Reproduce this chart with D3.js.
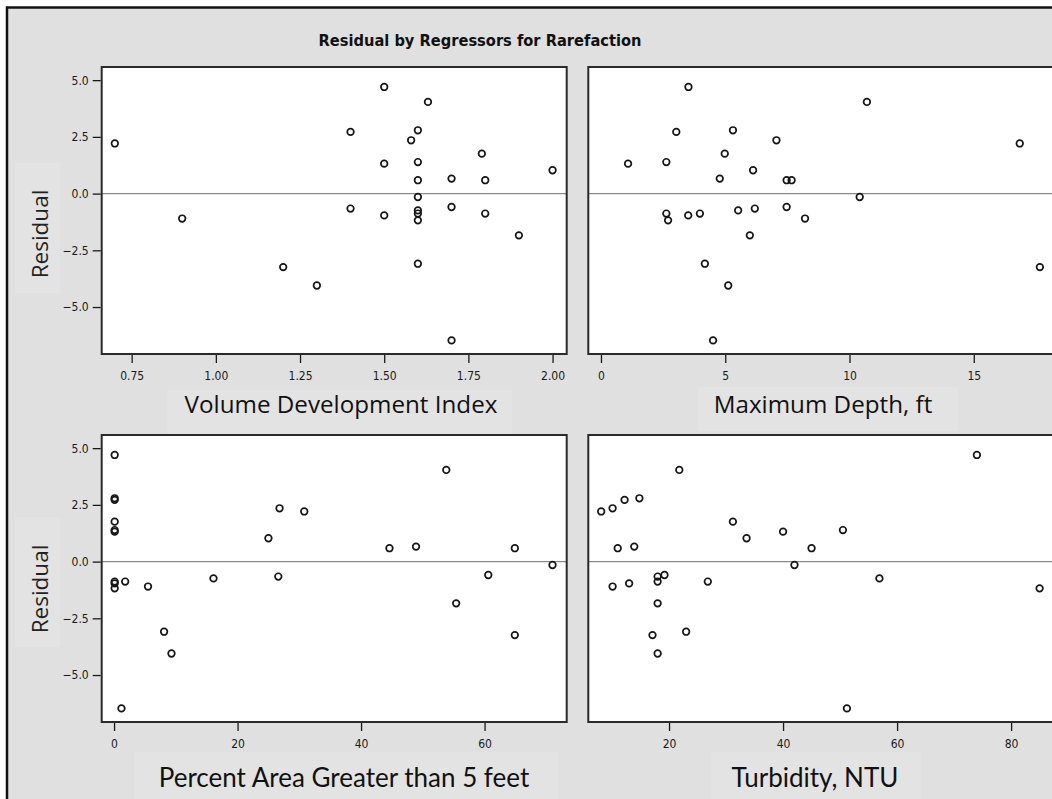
<!DOCTYPE html>
<html>
<head>
<meta charset="utf-8">
<script src="https://cdn.jsdelivr.net/npm/d3@7"></script>
<style>
  body { margin: 0; background: #fff; }
  .tick text { font-family: "DejaVu Sans Condensed", "Liberation Sans Narrow", sans-serif; font-size: 12px; fill: #1a1a1a; }
  .tick line { stroke: #1a1a1a; stroke-width: 1.3; }
  .domain { display: none; }
</style>
</head>
<body>
<svg id="chart"></svg>
<script>
// residuals of the rarefaction model, one per lake
const residuals = [2.21, -1.10, -3.24, -4.05, 2.72, -0.66, 4.70, 1.32, -0.96, 4.04, 2.79, 2.35, 1.39, 0.59,
  -0.15, -0.74, -0.88, -1.18, -3.09, 0.66, -0.59, -6.47, 1.76, 0.59, -0.88, -1.84, 1.03];

// regressors, same order as residuals
const volumeDevIndex = [0.70, 0.90, 1.20, 1.30, 1.40, 1.40, 1.50, 1.50, 1.50, 1.63, 1.60, 1.58, 1.60, 1.60,
  1.60, 1.60, 1.60, 1.60, 1.60, 1.70, 1.70, 1.70, 1.79, 1.80, 1.80, 1.90, 2.00];
const maxDepth = [16.85, 8.21, 17.66, 5.12, 3.03, 6.19, 3.52, 1.09, 3.51, 10.70, 5.31, 7.06, 2.63, 7.47,
  10.41, 5.52, 2.63, 2.70, 4.18, 4.78, 7.47, 4.51, 4.98, 7.67, 3.98, 5.99, 6.12];
const pctAreaOver5ft = [30.8, 5.5, 64.9, 9.3, 0.1, 26.6, 0.1, 0.1, 0.1, 53.8, 0.1, 26.8, 0.1, 44.6,
  71.0, 16.1, 0.1, 0.1, 8.1, 48.9, 60.6, 1.2, 0.1, 64.9, 1.8, 55.4, 25.0];
const turbidity = [8.1, 10.1, 17.1, 18.0, 12.2, 18.0, 74.0, 40.0, 13.0, 21.8, 14.8, 10.1, 50.5, 11.0,
  42.0, 56.9, 18.0, 85.0, 23.0, 13.9, 19.2, 51.2, 31.2, 45.0, 26.8, 18.0, 33.6];

const yTicks = [-5, -2.5, 0, 2.5, 5];
const vdiTicks = [0.75, 1.00, 1.25, 1.50, 1.75, 2.00];
const depthTicks = [0, 5, 10, 15];
const pctTicks = [0, 20, 40, 60];
const turbTicks = [20, 40, 60, 80];

const titleText = "Residual by Regressors for Rarefaction";

const panels = [
  {x: volumeDevIndex, ticks: vdiTicks, fmt: d3.format(".2f"), domain: [0.661, 2.042], col: 0, row: 0,
   label: "Volume Development Index", font: "'Open Sans', sans-serif", size: 24.2, cx: 341, base: 413},
  {x: maxDepth, ticks: depthTicks, fmt: d3.format("d"), domain: [-0.51, 18.2], col: 1, row: 0,
   label: "Maximum Depth, ft", font: "'Open Sans', sans-serif", size: 24.2, cx: 823, base: 413},
  {x: pctAreaOver5ft, ticks: pctTicks, fmt: d3.format("d"), domain: [-2.0, 73.3], col: 0, row: 1,
   label: "Percent Area Greater than 5 feet", font: "Lato, sans-serif", size: 26, cx: 344, base: 787},
  {x: turbidity, ticks: turbTicks, fmt: d3.format("d"), domain: [5.84, 87.4], col: 1, row: 1,
   label: "Turbidity, NTU", font: "Lato, sans-serif", size: 26, cx: 815, base: 787}
];

const W = 1052, H = 799;
const colX = [101.7, 588.3], plotW = 465;
const rowY = [67, 435], plotH = 287;

const svg = d3.select("#chart").attr("width", W).attr("height", H);

// grey frame
svg.append("rect")
  .attr("x", 7).attr("y", 7.5).attr("width", W + 10).attr("height", H + 10)
  .attr("fill", "#e0e0e0").attr("stroke", "#111").attr("stroke-width", 2.5);

// faint lighter patches behind the pasted labels
const patches = [[15, 163, 45, 130], [15, 517, 45, 130], [167, 390, 345, 44], [698, 387, 260, 44],
  [134, 752, 424, 50], [711, 752, 210, 50]];
svg.selectAll(".patch").data(patches).join("rect")
  .attr("class", "patch")
  .attr("x", d => d[0]).attr("y", d => d[1]).attr("width", d => d[2]).attr("height", d => d[3])
  .attr("fill", "#e4e3e3");

svg.append("text")
  .attr("x", 480).attr("y", 46)
  .attr("text-anchor", "middle")
  .style("font-family", "'DejaVu Sans Condensed', sans-serif")
  .style("font-weight", "bold")
  .style("font-size", "16.3px")
  .attr("fill", "#111")
  .text(titleText);

panels.forEach(p => {
  const x0 = colX[p.col], y0 = rowY[p.row];
  const g = svg.append("g").attr("transform", `translate(${x0},${y0})`);

  const xScale = d3.scaleLinear().domain(p.domain).range([0, plotW]);
  const yScale = d3.scaleLinear().domain([-7.07, 5.58]).range([plotH, 0]);

  g.append("rect")
    .attr("width", plotW).attr("height", plotH)
    .attr("fill", "#fff");

  g.append("line")
    .attr("x1", 0).attr("x2", plotW)
    .attr("y1", yScale(0)).attr("y2", yScale(0))
    .attr("stroke", "#8a8a8a").attr("stroke-width", 1.2);

  g.selectAll("circle")
    .data(residuals)
    .join("circle")
      .attr("cx", (d, i) => xScale(p.x[i]))
      .attr("cy", d => yScale(d))
      .attr("r", 3.3)
      .attr("fill", "none")
      .attr("stroke", "#151515")
      .attr("stroke-width", 1.7);

  g.append("rect")
    .attr("width", plotW).attr("height", plotH)
    .attr("fill", "none").attr("stroke", "#2a2a2a").attr("stroke-width", 2);

  g.append("g")
    .attr("transform", `translate(0,${plotH + 1})`)
    .call(d3.axisBottom(xScale).tickValues(p.ticks).tickFormat(p.fmt).tickSize(8).tickPadding(8));

  if (p.col === 0) {
    g.append("g")
      .attr("transform", "translate(-1,0)")
      .call(d3.axisLeft(yScale).tickValues(yTicks).tickFormat(d3.format(".1f")).tickSize(8).tickPadding(4));

    svg.append("text")
      .attr("transform", `translate(48,${y0 + (p.row === 0 ? 167 : 154)}) rotate(-90)`)
      .attr("text-anchor", "middle")
      .style("font-family", "'Open Sans', sans-serif")
      .style("font-size", "22.5px")
      .attr("fill", "#222")
      .text("Residual");
  }

  svg.append("text")
    .attr("x", p.cx)
    .attr("y", p.base)
    .attr("text-anchor", "middle")
    .style("font-family", p.font)
    .style("font-size", p.size + "px")
    .attr("fill", "#111")
    .text(p.label);
});
</script>
</body>
</html>
